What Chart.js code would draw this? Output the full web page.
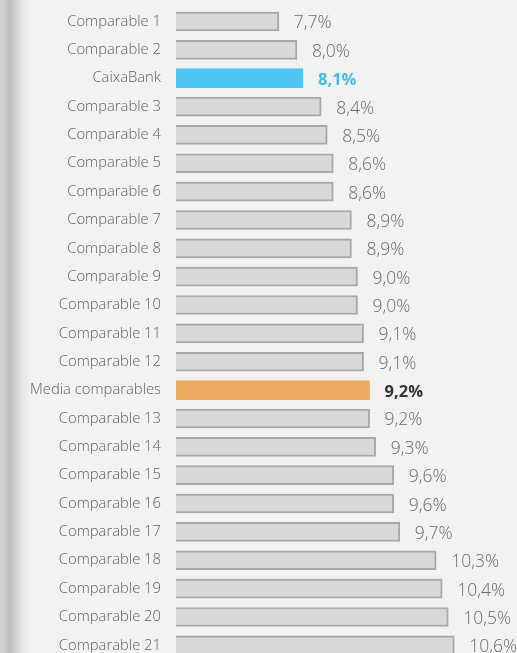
<!DOCTYPE html>
<html>
<head>
<meta charset="utf-8">
<script src="https://cdn.jsdelivr.net/npm/chart.js@4"></script>
<style>
  html, body { margin: 0; padding: 0; overflow: hidden; }
  body {
    width: 517px; height: 653px;
    background: linear-gradient(to right, #d2d2d2 0px, #cacaca 6px, #bebebe 9px, #c8c8c8 13px, #e4e4e4 22px, #f2f2f2 32px);
  }
  #wrap { position: absolute; left: 0; top: 0; width: 517px; height: 667px; }
</style>
</head>
<body>
<div id="wrap"><canvas id="chart"></canvas></div>
<script>
// categories and values (ratio, %)
const categories = ['Comparable 1', 'Comparable 2', 'CaixaBank', 'Comparable 3', 'Comparable 4',
  'Comparable 5', 'Comparable 6', 'Comparable 7', 'Comparable 8', 'Comparable 9', 'Comparable 10',
  'Comparable 11', 'Comparable 12', 'Media comparables', 'Comparable 13', 'Comparable 14',
  'Comparable 15', 'Comparable 16', 'Comparable 17', 'Comparable 18', 'Comparable 19',
  'Comparable 20', 'Comparable 21'];
const values = [7.7, 8.0, 8.1, 8.4, 8.5, 8.6, 8.6, 8.9, 8.9, 9.0, 9.0, 9.1, 9.1, 9.2, 9.2, 9.3,
  9.6, 9.6, 9.7, 10.3, 10.4, 10.5, 10.6];

const FONT = "'Open Sans', sans-serif";

const fills = categories.map(c => c === 'CaixaBank' ? '#4fc6f2' : c === 'Media comparables' ? '#eda862' : '#d9d9d9');
const borders = categories.map(c => c === 'CaixaBank' ? '#4fc6f2' : c === 'Media comparables' ? '#eda862' : '#a8a8a8');

// value labels at the end of each bar
const valueLabels = {
  id: 'valueLabels',
  afterDatasetsDraw(chart) {
    const ctx = chart.ctx;
    const meta = chart.getDatasetMeta(0);
    ctx.save();
    ctx.textBaseline = 'middle';
    ctx.textAlign = 'left';
    meta.data.forEach((bar, i) => {
      const txt = values[i].toFixed(1).replace('.', ',') + '%';
      const cat = categories[i];
      if (cat === 'CaixaBank') {
        ctx.fillStyle = '#3fbdee';
        ctx.font = 'bold 16.5px ' + FONT;
      } else if (cat === 'Media comparables') {
        ctx.fillStyle = '#333333';
        ctx.font = 'bold 16.5px ' + FONT;
      } else {
        ctx.fillStyle = '#6a6a6a';
        ctx.font = '300 17.5px ' + FONT;
      }
      ctx.fillText(txt, bar.x + 15, bar.y + 2);
    });
    ctx.restore();
  }
};

new Chart(document.getElementById('chart'), {
  type: 'bar',
  data: {
    labels: categories,
    datasets: [{
      data: values,
      backgroundColor: fills,
      borderColor: borders,
      borderWidth: 2,
      barThickness: 19
    }]
  },
  options: {
    indexAxis: 'y',
    responsive: true,
    maintainAspectRatio: false,
    animation: false,
    layout: { padding: { top: 7.3, bottom: 7.5, left: 0, right: 38.5 } },
    plugins: { legend: { display: false }, tooltip: { enabled: false } },
    scales: {
      x: { display: false, min: 6, max: 11 },
      y: {
        grid: { display: false, drawTicks: false },
        border: { display: false },
        ticks: { color: '#606060', font: { family: FONT, size: 14.8, weight: 300 }, padding: 15 },
        afterFit(scale) {
          scale.width = 176;
          scale.paddingTop = 0;
          scale.paddingBottom = 0;
        }
      }
    }
  },
  plugins: [valueLabels]
});
</script>
</body>
</html>
